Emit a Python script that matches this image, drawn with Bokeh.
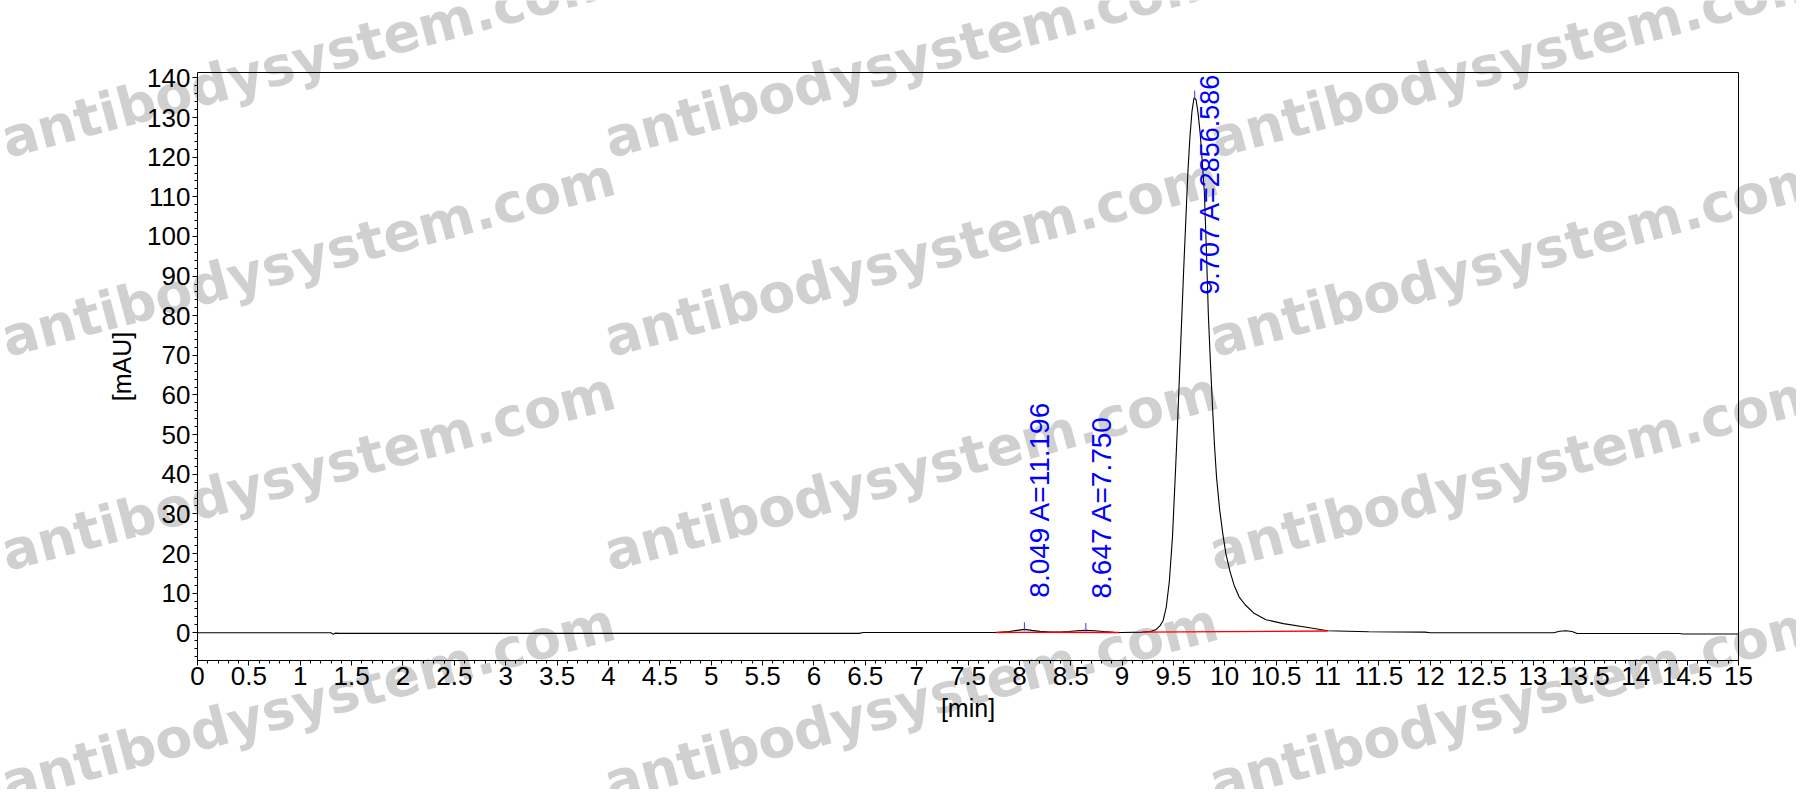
import math
from bokeh.plotting import figure
from bokeh.models import Range1d, FixedTicker, Label, ColumnDataSource, LinearAxis
from bokeh.core.properties import value
from bokeh.embed import file_html
from bokeh.resources import INLINE

# ---------------- data ----------------
time_min = [0.00, 1.30, 1.32, 1.34, 1.38, 6.44, 6.48, 7.60, 7.77, 7.90, 7.98,
            8.05, 8.12, 8.20, 8.30, 8.40, 8.48, 8.56, 8.65, 8.73, 8.82, 8.92,
            9.00, 9.20, 9.28, 9.33, 9.37, 9.40, 9.43, 9.46, 9.49, 9.52, 9.54,
            9.56, 9.58, 9.60, 9.62, 9.64, 9.66, 9.68, 9.70, 9.72, 9.74, 9.76,
            9.78, 9.80, 9.82, 9.84, 9.86, 9.88, 9.90, 9.92, 9.95, 9.98, 10.01,
            10.05, 10.09, 10.14, 10.20, 10.28, 10.40, 10.57, 10.84, 11.00,
            11.40, 11.95, 12.00, 13.20, 13.26, 13.32, 13.38, 13.43, 14.42,
            14.46, 15.00]
signal_mau = [0.00, 0.00, -0.40, -0.10, -0.15, -0.15, 0.05, 0.05, 0.08, 0.30, 0.60,
              0.85, 0.60, 0.35, 0.15, 0.15, 0.30, 0.50, 0.65, 0.50, 0.30, 0.10,
              0.05, 0.15, 0.30, 0.80, 1.80, 3.10, 6.50, 13.0, 24.0, 41.0, 53.0,
              66.0, 79.0, 92.0, 104.0, 116.0, 125.0, 131.5, 135.0, 134.5, 131.0, 126.0,
              119.0, 111.6, 97.0, 80.0, 68.0, 57.0, 47.0, 39.0, 31.0, 25.0, 20.0,
              15.5, 12.0, 9.0, 7.0, 5.0, 3.3, 2.3, 1.2, 0.5,
              0.25, 0.15, 0.00, 0.00, 0.40, 0.50, 0.30, -0.20, -0.20,
              -0.30, -0.30]

# integration baselines (red)
base_t0 = [7.77, 8.30, 9.19]
base_y0 = [0.08, 0.12, 0.15]
base_t1 = [8.30, 8.97, 11.00]
base_y1 = [0.12, 0.08, 0.45]

# integrated peaks
peak_rt = [8.049, 8.647, 9.707]
peak_area = [11.196, 7.750, 2856.586]
peak_height = [0.85, 0.65, 135.0]

x_ticks = [i * 0.5 for i in range(31)]
x_tick_labels = ["0", "0.5", "1", "1.5", "2", "2.5", "3", "3.5", "4", "4.5", "5",
                 "5.5", "6", "6.5", "7", "7.5", "8", "8.5", "9", "9.5", "10",
                 "10.5", "11", "11.5", "12", "12.5", "13", "13.5", "14", "14.5", "15"]
y_ticks = [0, 10, 20, 30, 40, 50, 60, 70, 80, 90, 100, 110, 120, 130, 140]

watermark_text = "antibodysystem.com"

# ---------------- layout ----------------
W, H = 1796, 789
FL, FR, FT, FB = 197.0, 1738.0, 71.5, 660.0   # plot box edges, canvas px
X0, X1 = 0.0, 15.0                            # visible time range of the box
Y0, Y1 = -7.0, 141.5                          # visible signal range of the box
sx = (FR - FL) / (X1 - X0)
sy = (FB - FT) / (Y1 - Y0)

# the frame covers the whole canvas so the watermark can span it; the box
# edges are drawn by axes fixed at the box limits
p = figure(width=W, height=H, output_backend="svg", toolbar_location=None,
           x_range=Range1d(X0 - FL / sx, X0 + (W - FL) / sx),
           y_range=Range1d(Y0 - (H - FB) / sy, Y0 + FB / sy),
           min_border=0, min_border_left=0, min_border_right=0,
           min_border_top=0, min_border_bottom=0)
p.background_fill_color = "white"
p.border_fill_color = "white"
p.outline_line_color = None
p.xgrid.visible = False
p.ygrid.visible = False

FONT = "Liberation Sans"

# watermark (underneath everything)
wm_cols = [2, 605, 1210]
wm_rows = [140, 339, 553, 784]
for cx in wm_cols:
    for ry in wm_rows:
        p.add_layout(Label(x=X0 + (cx - FL) / sx, y=Y0 + (FB - ry) / sy,
                           text=watermark_text, angle=math.radians(15),
                           text_font="DejaVu Sans", text_font_style="bold",
                           text_font_size="54px", text_color="#d0d0d0",
                           text_align="left", text_baseline="alphabetic",
                           level="underlay"))

# chromatogram trace
p.line(time_min, signal_mau, line_color="black", line_width=1.1)

# integration baselines
p.segment(x0=base_t0, y0=base_y0, x1=base_t1, y1=base_y1,
          line_color="#ff0000", line_width=1.4)

# peak markers
p.segment(x0=peak_rt, y0=[h - 0.3 for h in peak_height],
          x1=peak_rt, y1=[h + 1.8 for h in peak_height],
          line_color="#3333ff", line_width=1)

# peak labels
labels = ["%.3f A=%.3f" % (rt, a) for rt, a in zip(peak_rt, peak_area)]
small = [i for i, h in enumerate(peak_height) if h + 70 < Y1]
big = [i for i, h in enumerate(peak_height) if h + 70 >= Y1]
src_small = ColumnDataSource(dict(x=[peak_rt[i] for i in small],
                                  y=[peak_height[i] + 8 for i in small],
                                  t=[labels[i] for i in small]))
src_big = ColumnDataSource(dict(x=[peak_rt[i] for i in big],
                                y=[Y1 - 0.3 for i in big],
                                t=[labels[i] for i in big]))
p.text(x="x", y="y", text="t", source=src_small, angle=math.pi / 2,
       text_font=value(FONT), text_font_size="28px", text_color="#0000ff",
       text_align="left", text_baseline="top")
p.text(x="x", y="y", text="t", source=src_big, angle=math.pi / 2,
       text_font=value(FONT), text_font_size="27px", text_color="#0000ff",
       text_align="right", text_baseline="top")

# axes
xa = p.xaxis[0]
xa.fixed_location = Y0
xa.bounds = (X0, X1)
xa.ticker = FixedTicker(ticks=x_ticks,
                        minor_ticks=[round(i * 0.1, 1) for i in range(151)])
xa.major_label_overrides = {t: l for t, l in zip(x_ticks, x_tick_labels)}
xa.axis_label = "[min]"
ya = p.yaxis[0]
ya.fixed_location = X0
ya.bounds = (Y0, Y1)
ya.ticker = FixedTicker(ticks=y_ticks,
                        minor_ticks=[v for v in range(-6, 141, 2)])
ya.axis_label = "[mAU]"
for ax in (xa, ya):
    ax.axis_line_color = "black"
    ax.major_tick_line_color = "black"
    ax.minor_tick_line_color = "black"
    ax.major_tick_in = 0
    ax.major_tick_out = 5
    ax.minor_tick_in = 0
    ax.minor_tick_out = 3
    ax.major_label_text_font = FONT
    ax.major_label_text_font_size = "26px"
    ax.major_label_text_color = "black"
    ax.axis_label_text_font = FONT
    ax.axis_label_text_font_size = "25px"
    ax.axis_label_text_font_style = "normal"
    ax.axis_label_text_color = "black"
xa.major_label_standoff = 1
ya.major_label_standoff = 2
xa.axis_label_standoff = 6
ya.axis_label_standoff = 8

# top and right edges of the plot box
top = LinearAxis(fixed_location=Y1, bounds=(X0, X1), ticker=FixedTicker(ticks=[]),
                 major_tick_out=0, minor_tick_out=0, major_label_text_alpha=0,
                 axis_line_color="black")
right = LinearAxis(fixed_location=X1, bounds=(Y0, Y1), ticker=FixedTicker(ticks=[]),
                   major_tick_out=0, minor_tick_out=0, major_label_text_alpha=0,
                   axis_line_color="black")
p.add_layout(top, "above")
p.add_layout(right, "right")

open("out.html", "w").write(file_html(p, INLINE))
